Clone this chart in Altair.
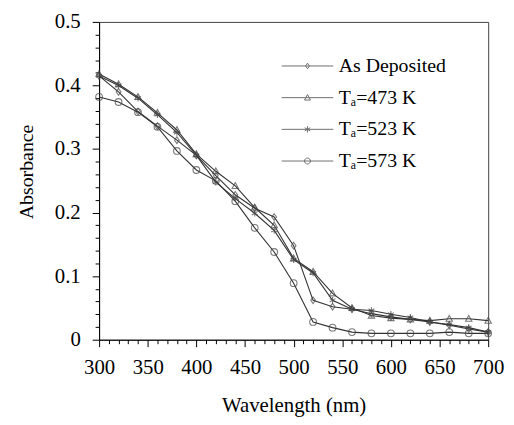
import altair as alt
import pandas as pd

wavelength = list(range(300, 701, 20))
series_names = ["As Deposited", "Tₐ=473 K", "Tₐ=523 K", "Tₐ=573 K"]
as_deposited = [0.415, 0.390, 0.359, 0.336, 0.314, 0.290, 0.258, 0.228, 0.207, 0.193, 0.148,
                0.062, 0.052, 0.048, 0.041, 0.036, 0.032, 0.028, 0.023, 0.017, 0.012]
ta_473 = [0.418, 0.402, 0.382, 0.357, 0.330, 0.292, 0.265, 0.242, 0.208, 0.180, 0.128,
          0.107, 0.073, 0.050, 0.038, 0.034, 0.032, 0.030, 0.033, 0.033, 0.030]
ta_523 = [0.415, 0.400, 0.380, 0.354, 0.326, 0.290, 0.248, 0.222, 0.199, 0.172, 0.126,
          0.105, 0.062, 0.048, 0.046, 0.040, 0.035, 0.028, 0.024, 0.019, 0.012]
ta_573 = [0.382, 0.374, 0.358, 0.335, 0.297, 0.267, 0.250, 0.218, 0.176, 0.138, 0.089,
          0.028, 0.019, 0.012, 0.010, 0.010, 0.010, 0.010, 0.012, 0.010, 0.010]

x_ticks = list(range(300, 701, 10))
y_ticks = [round(i * 0.02, 2) for i in range(26)]

rows = []
for name, vals in zip(series_names, [as_deposited, ta_473, ta_523, ta_573]):
    for w, v in zip(wavelength, vals):
        rows.append({"series": name, "wavelength": w, "absorbance": v})
df = pd.DataFrame(rows)

FONT = "Liberation Serif"
INK = "#333333"

marker_paths = [
    "M0,-1L0.7,0L0,1L-0.7,0Z",
    "M0,-1L0.95,0.75L-0.95,0.75Z",
    "M0,-1V1M-0.87,-0.5L0.87,0.5M-0.87,0.5L0.87,-0.5",
    "M1,0A1,1,0,1,1,-1,0A1,1,0,1,1,1,0Z",
]
# legend sample: a horizontal stroke with the series marker in the middle
legend_paths = [
    "M-2.6,0H2.6M0,-0.28L0.2,0L0,0.28L-0.2,0Z",
    "M-2.6,0H2.6M0,-0.32L0.3,0.24L-0.3,0.24Z",
    "M-2.6,0H2.6M0,-0.32V0.32M-0.28,-0.16L0.28,0.16M-0.28,0.16L0.28,-0.16",
    "M-2.6,0H2.6M0.3,0A0.3,0.3,0,1,1,-0.3,0A0.3,0.3,0,1,1,0.3,0Z",
]

major_x = "datum.value % 50 == 0"
major_y = "abs(datum.value * 10 - round(datum.value * 10)) < 0.001"

x_enc = alt.X(
    "wavelength:Q",
    scale=alt.Scale(domain=[300, 700], nice=False),
    axis=alt.Axis(
        title="Wavelength (nm)",
        values=x_ticks,
        labelExpr=f"{major_x} ? datum.label : ''",
        labelFlush=False,
        labelOverlap=False,
        tickSize={"condition": {"test": major_x, "value": 7}, "value": 4},
        labelPadding=10,
        titlePadding=18,
        titleFontSize=21,
    ),
)
y_enc = alt.Y(
    "absorbance:Q",
    scale=alt.Scale(domain=[0, 0.5], nice=False),
    axis=alt.Axis(
        title="Absorbance",
        values=y_ticks,
        labelExpr=f"{major_y} ? (datum.value == 0 ? '0' : format(datum.value, '.1f')) : ''",
        labelFlush=False,
        labelOverlap=False,
        tickSize={"condition": {"test": major_y, "value": 7}, "value": 4},
        labelPadding=12,
        titlePadding=18,
        titleY=151,
    ),
)

base = alt.Chart(df)

lines = base.mark_line(color=INK, strokeWidth=1.1).encode(
    x=x_enc, y=y_enc, detail="series:N"
)

points = base.mark_point(filled=False, size=46, strokeWidth=1.1, color="#444444").encode(
    x=x_enc,
    y=y_enc,
    shape=alt.Shape(
        "series:N",
        scale=alt.Scale(domain=series_names, range=marker_paths),
        legend=None,
    ),
)

legend_layer = base.transform_filter("datum.absorbance < 0").mark_point(
    filled=False, size=400, strokeWidth=1, color=INK
).encode(
    x=x_enc,
    y=y_enc,
    shape=alt.Shape(
        "series:N",
        scale=alt.Scale(domain=series_names, range=legend_paths),
        legend=alt.Legend(
            title=None,
            orient="none",
            legendX=200,
            legendY=34,
            padding=0,
            labelFont=FONT,
            labelFontSize=20,
            labelColor="black",
            labelOffset=21,
            rowPadding=11,
            symbolSize=400,
            symbolStrokeWidth=1,
            symbolStrokeColor=INK,
            symbolFillColor="white",
        ),
    ),
)

chart = (
    alt.layer(lines, points, legend_layer)
    .resolve_scale(shape="independent")
    .properties(
        width=393,
        height=321,
        autosize=alt.AutoSizeParams(type="none"),
        padding={"left": 92, "top": 12, "right": 18, "bottom": 76},
    )
    .configure_view(stroke="#444444", strokeWidth=1)
    .configure_axis(
        grid=False,
        domainColor="black",
        domainWidth=1,
        tickColor="black",
        tickWidth=1,
        labelFont=FONT,
        labelFontSize=21,
        labelColor="black",
        titleFont=FONT,
        titleFontSize=20,
        titleFontWeight="normal",
        titleColor="black",
    )
    .configure_axisX(labelAngle=0)
)

chart.save("out.html", embed_options={"renderer": "svg", "actions": False})
